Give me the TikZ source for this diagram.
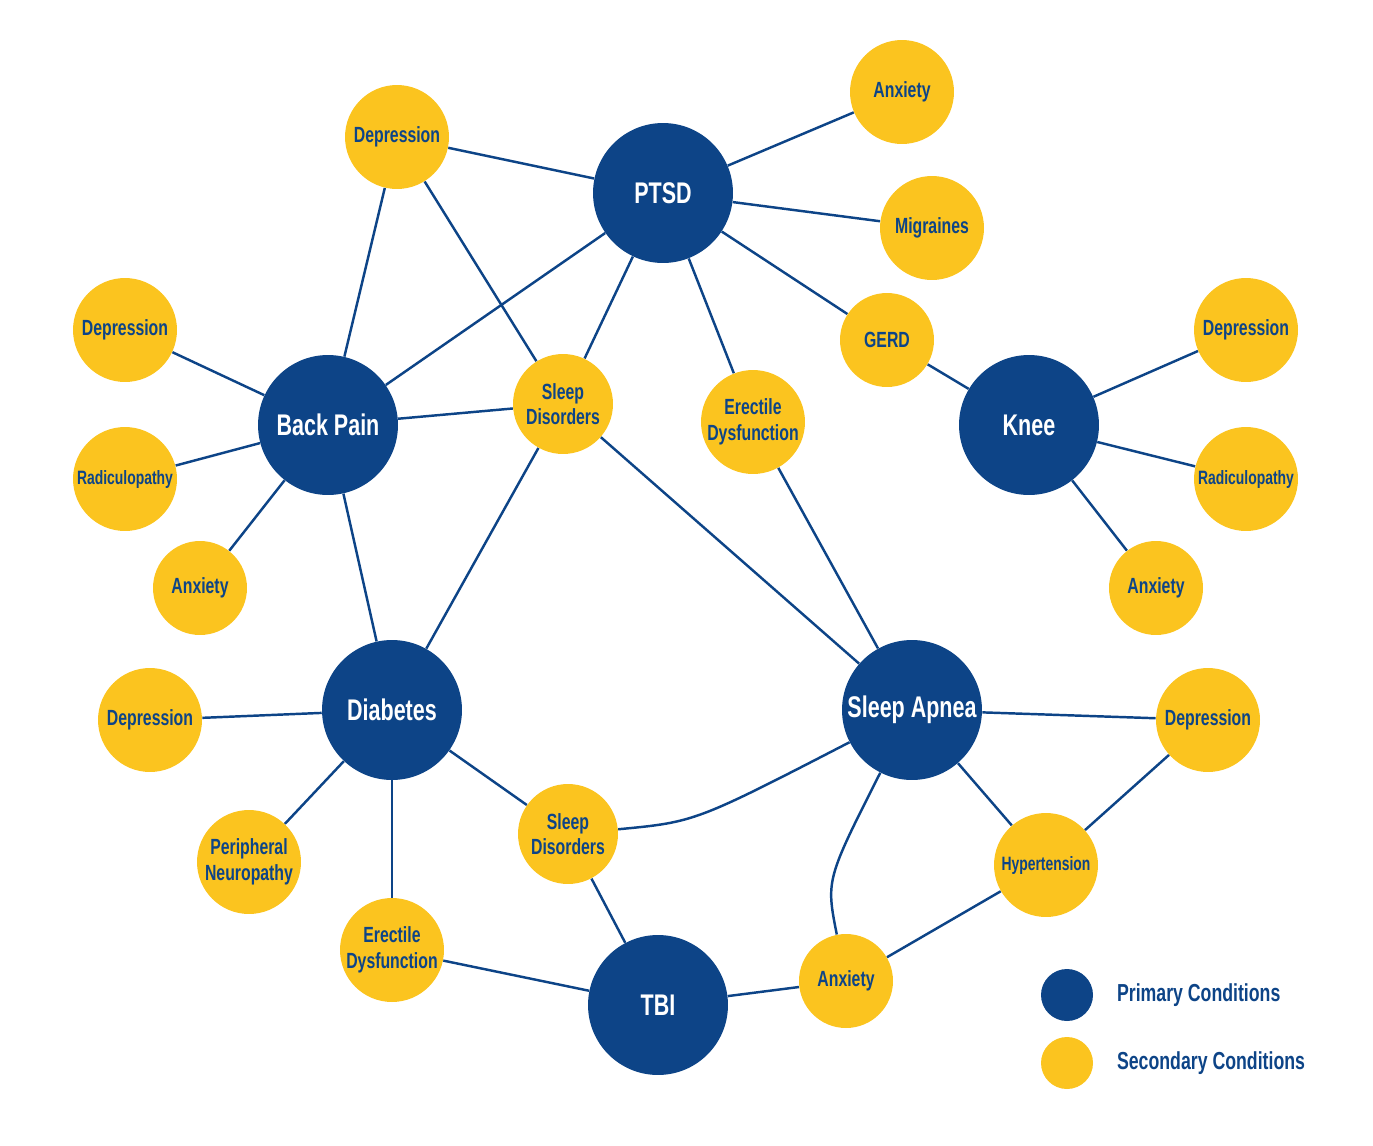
\documentclass[tikz,border=0pt]{standalone}
\usepackage{fontspec}
\setmainfont{Liberation Sans}[FakeStretch=0.72]
\usetikzlibrary{positioning}
\usetikzlibrary{backgrounds}
\definecolor{navy}{HTML}{0D4487}
\definecolor{gold}{HTML}{FBC41F}

\begin{document}
\begin{tikzpicture}[x=0.02cm, y=-0.02cm,
  prim/.style={circle, fill=navy, text=white, font=\bfseries\fontsize{17}{19}\selectfont, minimum size=2.8cm, inner sep=0pt, align=center},
  sec/.style={circle, fill=gold, text=navy, font=\bfseries\fontsize{12.5}{14.5}\selectfont, minimum size=2.08cm, inner sep=0pt, align=center},
  secs/.style={sec, minimum size=1.88cm},
  small/.style={font=\bfseries\fontsize{11}{13}\selectfont},
  edge/.style={draw=navy, line width=1.4pt}
]
\useasboundingbox (0,0) rectangle (1373,1146);

% primary conditions
\node[prim] (ptsd) at (663,193) {PTSD};
\node[prim] (back) at (328,425) {Back Pain};
\node[prim] (knee) at (1029,425) {Knee};
\node[prim] (diab) at (392,710) {Diabetes};
\node[prim] (apnea) at (912,710) {Sleep Apnea};
\node[prim] (tbi) at (658,1005) {TBI};

% secondary conditions
\node[sec] (dep1) at (397,137) {Depression};
\node[sec] (anx1) at (902,92) {Anxiety};
\node[sec] (mig) at (932,228) {Migraines};
\node[secs] (gerd) at (887,340) {GERD};
\node[sec] (dep2) at (125,330) {Depression};
\node[sec, small] (rad1) at (125,479) {Radiculopathy};
\node[secs] (anx2) at (200,588) {Anxiety};
\node[sec, minimum size=2cm] (sleep1) at (563,404) {Sleep\\Disorders};
\node[sec] (ed1) at (753,422) {Erectile\\Dysfunction};
\node[sec] (depk) at (1246,330) {Depression};
\node[sec, small] (radk) at (1246,479) {Radiculopathy};
\node[secs] (anxk) at (1156,588) {Anxiety};
\node[sec] (dep3) at (150,720) {Depression};
\node[sec] (neuro) at (249,862) {Peripheral\\Neuropathy};
\node[sec] (ed2) at (392,950) {Erectile\\Dysfunction};
\node[sec, minimum size=2cm] (sleep2) at (568,834) {Sleep\\Disorders};
\node[sec] (depa) at (1208,720) {Depression};
\node[sec, small] (hyper) at (1046,865) {Hypertension};
\node[secs] (anx3) at (846,981) {Anxiety};

% legend
\node[circle, fill=navy, minimum size=1.04cm] (lprim) at (1067,995) {};
\node[circle, fill=gold, minimum size=1.04cm] (lsec) at (1067,1063) {};
\node[right=0.35cm of lprim, text=navy, font=\bfseries\fontsize{14}{16}\selectfont] (tprim) {Primary Conditions};
\node[right=0.35cm of lsec, text=navy, font=\bfseries\fontsize{14}{16}\selectfont] (tsec) {Secondary Conditions};

\begin{scope}[on background layer]
\draw[edge] (dep1) -- (ptsd);
\draw[edge] (dep1) -- (back);
\draw[edge] (dep1) -- (sleep1);
\draw[edge] (ptsd) -- (anx1);
\draw[edge] (ptsd) -- (mig);
\draw[edge] (ptsd) -- (gerd);
\draw[edge] (ptsd) -- (ed1);
\draw[edge] (ptsd) -- (sleep1);
\draw[edge] (ptsd) -- (back);
\draw[edge] (gerd) -- (knee);
\draw[edge] (knee) -- (depk);
\draw[edge] (knee) -- (radk);
\draw[edge] (knee) -- (anxk);
\draw[edge] (back) -- (dep2);
\draw[edge] (back) -- (rad1);
\draw[edge] (back) -- (anx2);
\draw[edge] (back) -- (sleep1);
\draw[edge] (back) -- (diab);
\draw[edge] (sleep1) -- (diab);
\draw[edge] (sleep1) -- (apnea);
\draw[edge] (ed1) -- (apnea);
\draw[edge] (diab) -- (dep3);
\draw[edge] (diab) -- (neuro);
\draw[edge] (diab) -- (ed2);
\draw[edge] (diab) -- (sleep2);
\draw[edge] (sleep2) .. controls (695,822) .. (apnea);
\draw[edge] (sleep2) -- (tbi);
\draw[edge] (ed2) -- (tbi);
\draw[edge] (tbi) -- (anx3);
\draw[edge] (apnea) -- (depa);
\draw[edge] (apnea) -- (hyper);
\draw[edge] (apnea) .. controls (826,880) .. (anx3);
\draw[edge] (depa) -- (hyper);
\draw[edge] (hyper) -- (anx3);
\end{scope}
\end{tikzpicture}
\end{document}
